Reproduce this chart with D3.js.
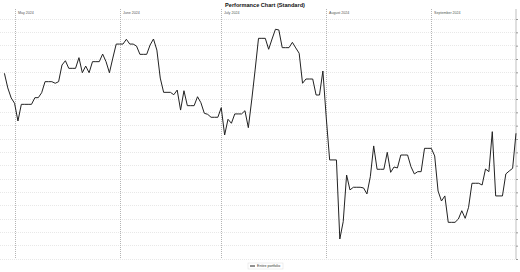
<!DOCTYPE html>
<html>
<meta charset="utf-8">
<style>
  body { margin: 0; background: #fff; }
  svg { width: 520px; height: 272px; display: block; }
  text { font-family: "Liberation Sans", Arial, sans-serif; }
  .grid line { stroke: #e8e8e8; stroke-dasharray: 1,1; shape-rendering: crispEdges; }
  .month line { stroke: #b4b4b4; stroke-dasharray: 1,1; shape-rendering: crispEdges; }
  .y.axis path { stroke: #d4d4d4; stroke-width: 1.5; }
  .y.axis line { stroke: #999; }
</style>
<body>
  <svg></svg>
</body>

<script src="https://d3js.org/d3.v7.min.js"></script>

<script>

// daily values, Apr 28 2024 .. Sep 26 2024 (one per calendar day)
var startDate = new Date(Date.UTC(2024, 3, 28));
var seriesName = "Entire portfolio";
var values = [
  13.93, 12.83, 12.08, 11.68, 10.35, 11.60, 11.60, 11.60, 11.60, 12.10,
  12.10, 12.47, 13.30, 13.30, 13.30, 13.18, 13.30, 14.55, 14.87, 14.30,
  14.30, 14.30, 15.10, 13.97, 14.47, 13.97, 14.80, 14.80, 14.80, 15.37,
  14.80, 13.97, 15.07, 16.12, 16.12, 16.12, 16.48, 16.12, 16.12, 15.97,
  15.35, 15.35, 15.35, 16.05, 16.50, 15.67, 13.57, 12.50, 12.50, 12.50,
  12.32, 12.67, 11.17, 12.62, 11.50, 11.50, 11.50, 12.17, 11.72, 10.93,
  10.85, 10.63, 10.63, 10.63, 11.35, 9.30, 10.48, 10.18, 10.88, 10.88,
  10.88, 11.12, 9.85, 11.93, 14.18, 16.55, 16.55, 16.55, 15.73, 16.50,
  17.23, 17.18, 15.85, 15.85, 15.85, 16.25, 15.83, 15.43, 13.18, 13.50,
  13.50, 13.50, 12.30, 12.30, 14.10, 10.58, 7.43, 7.43, 7.43, 1.50,
  2.80, 6.30, 5.18, 5.38, 5.38, 5.38, 5.33, 4.88, 6.17, 8.48,
  6.73, 6.73, 6.73, 8.00, 6.50, 6.90, 6.83, 7.80, 7.80, 7.80,
  6.92, 6.38, 6.55, 6.55, 8.30, 8.30, 8.30, 7.73, 5.10, 4.35,
  4.73, 2.75, 2.75, 2.75, 3.00, 3.62, 3.05, 3.88, 5.68, 5.68,
  5.68, 5.55, 6.75, 6.55, 9.55, 4.73, 4.73, 4.73, 6.38, 6.60,
  6.80, 9.43
];
var gridValues = d3.range(0, 19);

var data = values.map(function(v, i) {
  return { date: d3.utcDay.offset(startDate, i), value: v };
});

var svg = d3.select("svg");

var xScale = d3.scaleUtc()
  .domain(d3.extent(data, function(d) { return d.date; }))
  .range([4.4, 516]);

var yScale = d3.scaleLinear()
  .domain([0, 18])
  .range([259, 19]);

// horizontal grid
svg.append("g").attr("class", "grid")
  .selectAll("line")
  .data(gridValues)
  .enter().append("line")
    .attr("x1", 0)
    .attr("x2", 516)
    .attr("y1", function(d) { return yScale(d); })
    .attr("y2", function(d) { return yScale(d); });

// month separators
var months = d3.utcMonth.range(xScale.domain()[0], xScale.domain()[1]);
var month = svg.append("g").attr("class", "month")
  .selectAll("g")
  .data(months)
  .enter().append("g")
    .attr("transform", function(d) { return "translate(" + Math.round(xScale(d)) + ",0)"; });

month.append("line")
  .attr("y1", 9)
  .attr("y2", 259);

month.append("text")
  .attr("x", 3)
  .attr("y", 14)
  .attr("font-size", "3.6px")
  .attr("fill", "#555")
  .text(d3.utcFormat("%B %Y"));

// right axis
var yAxis = d3.axisRight(yScale)
  .tickValues(gridValues)
  .tickSize(2)
  .tickSizeOuter(0)
  .tickFormat("");

svg.append("g")
  .attr("class", "y axis")
  .attr("transform", "translate(516,0)")
  .call(yAxis)
  .select(".domain")
    .attr("d", "M0,9V259");

// the series
var line = d3.line()
  .x(function(d) { return xScale(d.date); })
  .y(function(d) { return yScale(d.value); });

svg.append("path")
  .datum(data)
  .attr("fill", "none")
  .attr("stroke", "#222")
  .attr("stroke-width", 1)
  .attr("stroke-linejoin", "round")
  .attr("d", line);

// title
svg.append("text")
  .attr("x", 265)
  .attr("y", 7)
  .attr("text-anchor", "middle")
  .attr("font-size", "5.6px")
  .attr("font-weight", "bold")
  .attr("fill", "#111")
  .text("Performance Chart (Standard)");

// legend
var legend = svg.append("g").attr("transform", "translate(248,263)");
legend.append("rect")
  .attr("width", 35)
  .attr("height", 6)
  .attr("fill", "#fff")
  .attr("stroke", "#ddd")
  .attr("stroke-width", 0.5);
legend.append("line")
  .attr("x1", 2).attr("x2", 7)
  .attr("y1", 3).attr("y2", 3)
  .attr("stroke", "#222")
  .attr("stroke-width", 1);
legend.append("text")
  .attr("x", 9)
  .attr("y", 4.4)
  .attr("font-size", "3.6px")
  .attr("fill", "#333")
  .text(seriesName);

</script>
</html>
